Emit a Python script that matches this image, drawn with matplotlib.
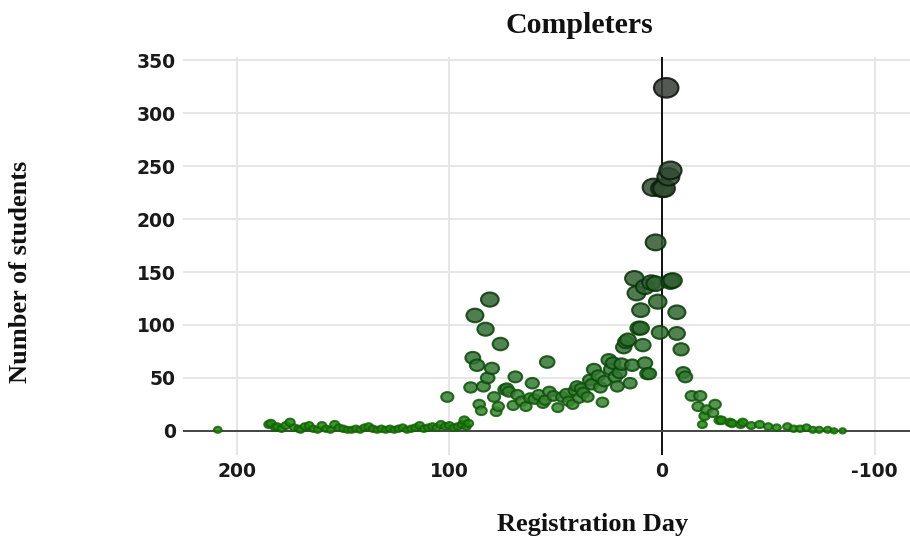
import numpy as np
import matplotlib.pyplot as plt
from matplotlib.colors import LinearSegmentedColormap, Normalize, to_rgb
from matplotlib.path import Path

plt.rcParams["axes.unicode_minus"] = False

# registration day (days before course start, positive = early) and student counts
days = [
    209, 185, 184, 182, 181, 179, 177, 175, 173, 171, 170, 168, 166, 164, 162,
    160, 158, 156, 154, 152, 150, 148, 146, 144, 142, 140, 138, 136, 134, 132,
    130, 128, 126, 124, 122, 120, 118, 116, 114, 112, 110, 108, 106, 104, 102,
    101, 100, 98, 96, 94, 93, 92, 91,
    90, 89, 88, 87, 86, 85, 84, 83, 82, 81, 80, 79, 78, 77, 76, 74, 73, 72,
    70, 69, 68, 66, 64, 62, 61, 60, 58, 56, 55, 54, 53, 51, 49, 47, 45, 44,
    42, 41, 40, 39, 38, 37, 35, 34, 33, 32, 30, 29, 28, 27, 25, 24, 23, 22,
    21, 20, 19, 18, 17, 16, 15, 14,
    13, 12, 11, 10, 10, 9, 8, 8, 7, 6, 5, 4, 3, 3, 2, 1, 0,
    -1, -2, -3, -4, -4, -5, -7, -7, -9, -10, -11,
    -14, -17, -18, -19, -20, -21, -24, -25, -27, -28, -32, -33, -37, -38,
    -42, -46, -50, -54, -59, -62, -65, -68, -71, -74, -78, -81, -85,
]
students = [
    1, 6, 7, 3, 4, 2, 5, 8, 3, 2, 1, 4, 5, 2, 1,
    5, 2, 1, 6, 3, 2, 1, 1, 2, 1, 3, 4, 2, 1, 2,
    1, 2, 1, 2, 3, 1, 2, 3, 5, 2, 3, 4, 3, 6, 4,
    32, 5, 3, 4, 6, 10, 4, 7,
    41, 69, 109, 62, 25, 19, 42, 96, 50, 124, 59, 32, 18, 23, 82, 39, 40, 37,
    24, 51, 34, 28, 23, 31, 45, 30, 34, 26, 29, 65, 37, 33, 22, 32, 35, 28,
    25, 38, 42, 31, 40, 36, 32, 48, 44, 58, 52, 41, 27, 47, 67, 58, 64, 51,
    42, 55, 63, 79, 84, 86, 45, 62,
    144, 130, 97, 114, 97, 81, 136, 64, 54, 54, 140, 230, 178, 139, 122, 93, 229,
    229, 324, 240, 246, 141, 142, 112, 92, 77, 55, 51,
    33, 23, 33, 6, 14, 20, 17, 25, 10, 10, 8, 7, 6, 8,
    5, 6, 4, 3, 4, 2, 2, 3, 1, 1, 1, 0, 0,
]

x = np.array(days)
y = np.array(students)

# colour runs from bright green (few students) to near-black (many)
cmap = LinearSegmentedColormap.from_list(
    "greens_dark",
    [(0.0, "#1f8c0c"), (0.15, "#0f6a0f"), (0.4, "#0b4a0b"),
     (0.7, "#0c2a0c"), (1.0, "#121212")])
norm = Normalize(0, 330)
base = cmap(norm(y))[:, :3]
face = base * 0.7 + np.array(to_rgb("#8a9a8a")) * 0.3
face[y < 15] = base[y < 15]
edge = base * 0.7

# slightly flattened circle, width grows with the square root of the count
circ = Path.unit_circle()
oval = Path(circ.vertices * [1.0, 0.8], circ.codes)
width_px = 6.5 + 1.0 * np.sqrt(y)
sizes = (width_px * 0.72) ** 2

fig = plt.figure(figsize=(9.1, 5.44), dpi=100)
ax = fig.add_axes([0.201, 0.164, 0.799, 0.731])

ax.scatter(x, y, s=sizes, c=face, edgecolors=edge, linewidths=1.5,
           marker=oval, alpha=0.85, zorder=3)

ax.axvline(0, color="#111111", lw=1.4, zorder=2)
ax.axhline(0, color="#444444", lw=1.4, zorder=2)

ax.set_xlim(225.4, -116.7)
ax.set_ylim(-22.6, 353)
ax.set_xticks([200, 100, 0, -100])
ax.set_yticks(range(0, 351, 50))
ax.grid(True, color="#e6e6e6", lw=1.4, zorder=0)
for s in ax.spines.values():
    s.set_visible(False)
ax.tick_params(length=0, labelsize=13.5, colors="#1a1a1a", pad=5)
for lab in ax.get_xticklabels() + ax.get_yticklabels():
    lab.set_fontweight("bold")

serif = ["Liberation Serif", "DejaVu Serif"]
fig.text(0.637, 0.953, "Completers", ha="center", va="center",
         fontsize=21.5, fontweight="bold", family=serif, color="#111111")
fig.text(0.651, 0.035, "Registration Day", ha="center", va="center",
         fontsize=19, fontweight="bold", family=serif, color="#111111")
fig.text(0.022, 0.5, "Number of students", ha="center", va="center",
         rotation=90, fontsize=19, fontweight="bold", family=serif,
         color="#111111")

fig.savefig("out.png", dpi=100)
